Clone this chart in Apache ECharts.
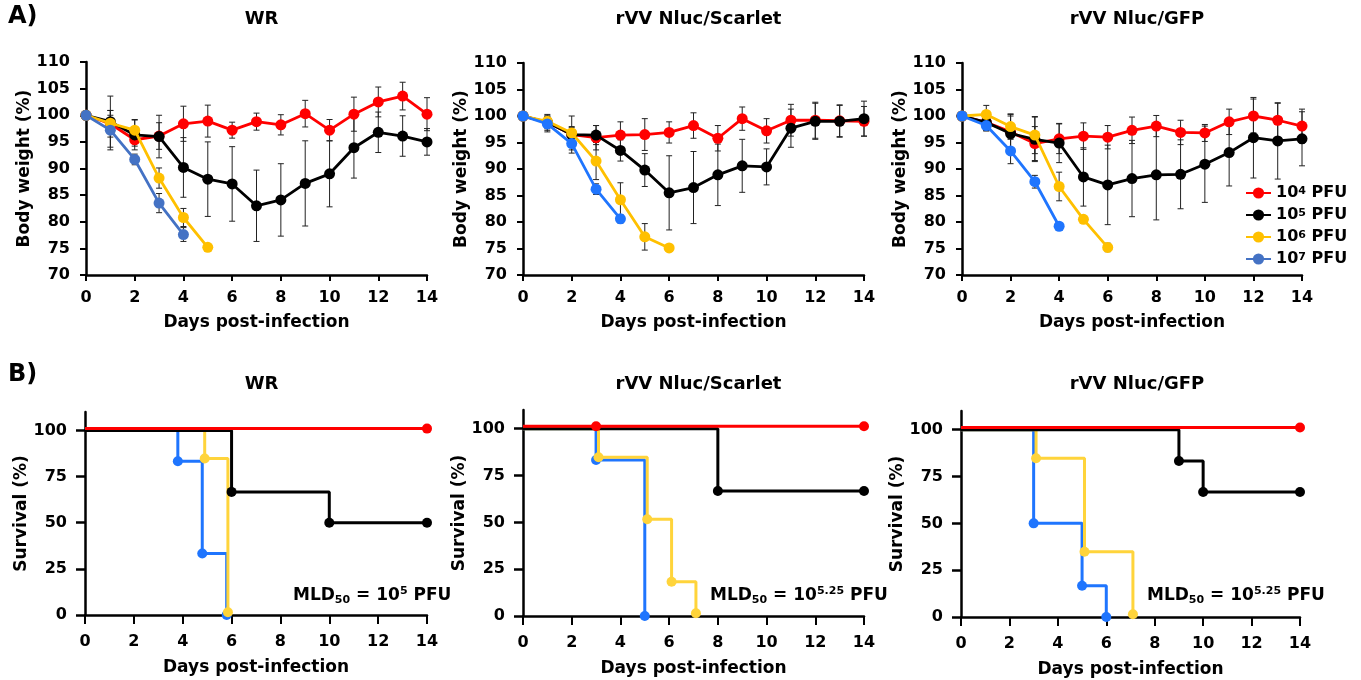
<!DOCTYPE html>
<html>
<head>
<meta charset="utf-8">
<title>Body weight and survival</title>
<script src="https://cdn.jsdelivr.net/npm/echarts@6/dist/echarts.min.js"></script>
<style>
  html, body { margin: 0; padding: 0; background: #fff; }
  #main { width: 1361px; height: 680px; }
</style>
</head>
<body>
<div id="main"></div>
<script>
// ---- data ----
var days = [0, 1, 2, 3, 4, 5, 6, 7, 8, 9, 10, 11, 12, 13, 14];
var doses = ['10^4 PFU', '10^5 PFU', '10^6 PFU', '10^7 PFU'];
var panelTitles = ['WR', 'rVV Nluc/Scarlet', 'rVV Nluc/GFP'];
var weightTicks = [70, 75, 80, 85, 90, 95, 100, 105, 110];
var survivalTicks = [0, 25, 50, 75, 100];
var mldExponents = ['5', '5.25', '5.25'];

// body weight (%), mean and SD, WR
var wrMean4 = [100, 98.4, 95.4, 96.1, 98.4, 98.9, 97.2, 98.8, 98.2, 100.3, 97.2, 100.2, 102.5, 103.6, 100.2];
var wrSd4   = [0, 2.5, 1.2, 2.5, 3.3, 3.0, 1.5, 1.6, 1.9, 2.5, 2.0, 3.2, 2.8, 2.6, 3.1];
var wrMean5 = [100, 98.8, 96.3, 96.0, 90.2, 88.0, 87.1, 83.0, 84.1, 87.2, 89.0, 93.9, 96.8, 96.1, 95.0];
var wrSd5   = [0, 4.8, 2.8, 4.0, 5.6, 7.0, 7.0, 6.7, 6.8, 8.0, 6.2, 5.7, 3.8, 3.8, 2.5];
var wrMean6 = [100, 98.5, 97.2, 88.2, 80.8, 75.2];
var wrSd6   = [0, 1.5, 2.0, 1.9, 1.7, 0];
var wrMean7 = [100, 97.2, 91.7, 83.5, 77.6];
var wrSd7   = [0, 3.7, 1.0, 1.8, 1.3];

// rVV Nluc/Scarlet
var scMean4 = [100, 98.8, 96.5, 95.9, 96.4, 96.5, 96.9, 98.2, 95.8, 99.5, 97.2, 99.2, 99.2, 99.1, 99.0];
var scSd4   = [0, 1.2, 1.5, 2.3, 2.5, 3.0, 2.0, 2.4, 2.4, 2.2, 2.3, 3.0, 3.4, 3.0, 2.8];
var scMean5 = [100, 98.8, 96.5, 96.4, 93.5, 89.8, 85.5, 86.5, 88.9, 90.6, 90.4, 97.7, 99.0, 99.0, 99.5];
var scSd5   = [0, 1.5, 3.5, 1.8, 2.0, 3.1, 7.0, 6.8, 5.8, 5.0, 3.4, 3.6, 3.4, 3.0, 3.3];
var scMean6 = [100, 99.0, 96.8, 91.5, 84.2, 77.2, 75.1];
var scSd6   = [0, 0.8, 1.0, 3.5, 3.2, 2.5, 0];
var scMean7 = [100, 98.5, 94.8, 86.2, 80.6];
var scSd7   = [0, 1.5, 1.2, 1.0, 0.8];

// rVV Nluc/GFP
var gfMean4 = [100, 98.8, 97.0, 94.8, 95.7, 96.2, 96.0, 97.3, 98.1, 96.9, 96.8, 98.9, 100.0, 99.2, 98.1];
var gfSd4   = [0, 1.5, 3.0, 3.2, 2.8, 2.5, 2.2, 2.5, 2.0, 2.3, 1.6, 2.4, 3.2, 3.2, 3.2];
var gfMean5 = [100, 98.8, 96.7, 95.6, 94.9, 88.5, 87.0, 88.2, 88.9, 89.0, 90.9, 93.1, 95.9, 95.3, 95.7];
var gfSd5   = [0, 1.6, 3.6, 4.2, 3.7, 5.5, 7.5, 7.2, 8.5, 6.5, 7.2, 6.3, 7.6, 7.2, 5.1];
var gfMean6 = [100, 100.3, 98.0, 96.4, 86.7, 80.5, 75.2];
var gfSd6   = [0, 1.7, 2.4, 3.5, 2.7, 0, 0.8];
var gfMean7 = [100, 98.2, 93.4, 87.6, 79.2];
var gfSd7   = [0, 1.0, 2.4, 1.2, 0];

// survival (%), [day, percent] step points
var wrSurv4 = [[0, 101], [14, 101]];
var wrSurv5 = [[0, 100], [6, 66.7], [10, 50], [14, 50]];
var wrSurv6 = [[0, 100], [4.9, 84.8], [5.85, 1.5]];
var wrSurv7 = [[0, 100], [3.8, 83.3], [4.8, 33.3], [5.8, 0]];

var scSurv4 = [[0, 101.3], [3, 101.3], [14, 101.3]];
var scSurv5 = [[0, 100], [8, 66.7], [14, 66.7]];
var scSurv6 = [[0, 100], [3.1, 84.8], [5.1, 51.7], [6.1, 18.3], [7.1, 1.5]];
var scSurv7 = [[0, 100], [3, 83.3], [5, 0]];

var gfSurv4 = [[0, 101.2], [14, 101.2]];
var gfSurv5 = [[0, 100], [9, 83.3], [10, 66.7], [14, 66.7]];
var gfSurv6 = [[0, 100], [3.1, 84.8], [5.1, 34.8], [7.1, 1.5]];
var gfSurv7 = [[0, 100], [3, 50], [5, 16.7], [6, 0]];

// ---- layout / style ----
var FONT = 'DejaVu Sans';
var weightColors = [
  ['#ff0000', '#000000', '#ffc000', '#4472c4'],
  ['#ff0000', '#000000', '#ffc000', '#1f75fe'],
  ['#ff0000', '#000000', '#ffc000', '#1f75fe']
];
var survColors = ['#ff0000', '#000000', '#ffd43b', '#1f75fe'];

var grids = [
  {left: 86, top: 62, width: 341, height: 213},
  {left: 523, top: 63, width: 341, height: 212},
  {left: 962, top: 63, width: 340, height: 212},
  {left: 85, top: 412, width: 342, height: 203},
  {left: 523, top: 410, width: 341, height: 206},
  {left: 961, top: 411, width: 339, height: 206}
];

var weightMeans = [
  [wrMean4, wrMean5, wrMean6, wrMean7],
  [scMean4, scMean5, scMean6, scMean7],
  [gfMean4, gfMean5, gfMean6, gfMean7]
];
var weightSds = [
  [wrSd4, wrSd5, wrSd6, wrSd7],
  [scSd4, scSd5, scSd6, scSd7],
  [gfSd4, gfSd5, gfSd6, gfSd7]
];
var survCurves = [
  [wrSurv4, wrSurv5, wrSurv6, wrSurv7],
  [scSurv4, scSurv5, scSurv6, scSurv7],
  [gfSurv4, gfSurv5, gfSurv6, gfSurv7]
];

function boldText(size) {
  return {fontFamily: FONT, fontWeight: 'bold', fontSize: size, color: '#000'};
}

function xAxisFor(gi, tickLen, margin, gap) {
  return {
    type: 'value', gridIndex: gi, min: 0, max: 14, interval: 2,
    name: 'Days post-infection', nameLocation: 'middle', nameGap: gap,
    nameTextStyle: boldText(17),
    axisLine: {lineStyle: {color: '#000', width: 2.5}},
    axisTick: {length: tickLen, lineStyle: {color: '#000', width: 2}},
    axisLabel: Object.assign({margin: margin}, boldText(16)),
    splitLine: {show: false}
  };
}

function errorBar(params, api) {
  var x = api.value(0), m = api.value(1), s = api.value(2);
  var hi = api.coord([x, m + s]);
  var lo = api.coord([x, m - s]);
  var w = 3;
  var st = {stroke: '#222', lineWidth: 1};
  return {
    type: 'group',
    children: [
      {type: 'line', shape: {x1: hi[0], y1: hi[1], x2: lo[0], y2: lo[1]}, style: st},
      {type: 'line', shape: {x1: hi[0] - w, y1: hi[1], x2: hi[0] + w, y2: hi[1]}, style: st},
      {type: 'line', shape: {x1: lo[0] - w, y1: lo[1], x2: lo[0] + w, y2: lo[1]}, style: st}
    ]
  };
}

var xAxes = [], yAxes = [], series = [], graphics = [];

for (var p = 0; p < 3; p++) {
  var g = p + 3;

  // body weight panel (axis index p)
  xAxes[p] = xAxisFor(p, 6, 15, 39);
  yAxes[p] = {
    type: 'value', gridIndex: p, min: 70, max: 110, interval: 5,
    name: 'Body weight (%)', nameLocation: 'middle', nameGap: 52,
    nameTextStyle: boldText(17),
    axisLine: {lineStyle: {color: '#000', width: 2.5}},
    axisTick: {length: 6, lineStyle: {color: '#000', width: 2}},
    axisLabel: Object.assign({margin: 16}, boldText(16)),
    splitLine: {show: false}
  };
  for (var k = 0; k < 4; k++) {
    var means = weightMeans[p][k], sds = weightSds[p][k];
    var pts = means.map(function (v, i) { return [days[i], v]; });
    var bars = [];
    means.forEach(function (v, i) { if (sds[i] > 0) bars.push([days[i], v, sds[i]]); });
    series.push({
      type: 'custom', xAxisIndex: p, yAxisIndex: p, renderItem: errorBar,
      data: bars, encode: {x: 0, y: 1}, z: 1, silent: true
    });
    series.push({
      type: 'line', name: doses[k], xAxisIndex: p, yAxisIndex: p, data: pts,
      symbol: 'circle', symbolSize: 11, showAllSymbol: true,
      lineStyle: {width: 2.8, color: weightColors[p][k]},
      itemStyle: {color: weightColors[p][k]},
      z: 2 + k
    });
  }

  // survival panel (axis index g)
  xAxes[g] = xAxisFor(g, 9, 19, 44);
  yAxes[g] = {
    type: 'value', gridIndex: g, min: 0, max: 110,
    name: 'Survival (%)', nameLocation: 'middle', nameGap: 52,
    nameTextStyle: boldText(17),
    axisLine: {lineStyle: {color: '#000', width: 2.5}},
    axisTick: {length: 9, lineStyle: {color: '#000', width: 2.5}, customValues: survivalTicks},
    axisLabel: Object.assign({margin: 18, customValues: survivalTicks}, boldText(16)),
    splitLine: {show: false}
  };
  [3, 2, 1, 0].forEach(function (k, order) {
    var curve = survCurves[p][k];
    series.push({
      type: 'line', name: doses[k], xAxisIndex: g, yAxisIndex: g, step: 'end',
      data: curve.map(function (pt, i) { return i === 0 ? {value: pt, symbol: 'none'} : {value: pt}; }),
      symbol: 'circle', symbolSize: 10, showAllSymbol: true,
      lineStyle: {width: 3, color: survColors[k]},
      itemStyle: {color: survColors[k]},
      z: 2 + order
    });
  });

  // panel titles
  var cx = grids[p].left + grids[p].width / 2 + 5;
  graphics.push({type: 'text', x: cx, y: 10, style: {text: panelTitles[p], align: 'center', textAlign: 'center', verticalAlign: 'top', textVerticalAlign: 'top', fill: '#000', fontFamily: FONT, fontWeight: 'bold', fontSize: 18}});
  graphics.push({type: 'text', x: cx, y: 375, style: {text: panelTitles[p], align: 'center', textAlign: 'center', verticalAlign: 'top', textVerticalAlign: 'top', fill: '#000', fontFamily: FONT, fontWeight: 'bold', fontSize: 18}});

  // MLD50 annotation
  graphics.push({
    type: 'text', x: [293, 710, 1147][p], y: 586,
    style: {
      text: 'MLD{sub|50} = 10{sup|' + mldExponents[p] + '} PFU',
      fill: '#000', fontFamily: FONT, fontWeight: 'bold', fontSize: 17, lineHeight: 20,
      rich: {
        sub: {fontFamily: FONT, fontWeight: 'bold', fontSize: 11, verticalAlign: 'bottom', lineHeight: 20, fill: '#000'},
        sup: {fontFamily: FONT, fontWeight: 'bold', fontSize: 11, verticalAlign: 'top', lineHeight: 20, fill: '#000'}
      }
    }
  });
}

graphics.push({type: 'text', x: 8, y: 5, style: {text: 'A)', fill: '#000', fontFamily: FONT, fontWeight: 'bold', fontSize: 24}});
graphics.push({type: 'text', x: 8, y: 363, style: {text: 'B)', fill: '#000', fontFamily: FONT, fontWeight: 'bold', fontSize: 24}});

var myChart = echarts.init(document.getElementById('main'));
myChart.setOption({
  animation: false,
  backgroundColor: '#fff',
  grid: grids,
  xAxis: xAxes,
  yAxis: yAxes,
  legend: {
    data: doses, orient: 'vertical', left: 1245, top: 185,
    itemWidth: 25, itemHeight: 14, itemGap: 6, padding: 0,
    formatter: function (name) { return name.replace(/\^(\d)/, '{s|$1}'); },
    textStyle: {
      fontFamily: FONT, fontWeight: 'bold', fontSize: 16, color: '#000', lineHeight: 14,
      rich: {s: {fontFamily: FONT, fontWeight: 'bold', fontSize: 11, color: '#000', verticalAlign: 'top', lineHeight: 14}}
    }
  },
  graphic: graphics,
  series: series
});
</script>
</body>
</html>
